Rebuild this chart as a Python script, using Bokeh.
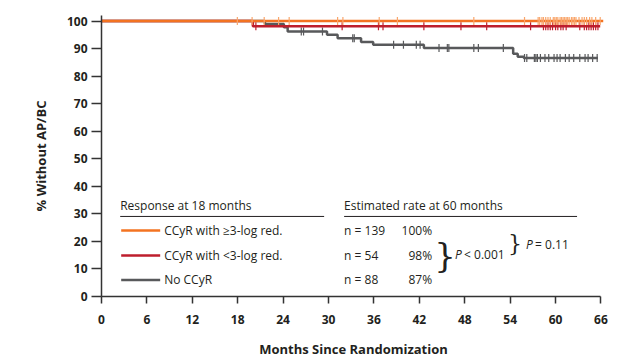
import numpy as np
from bokeh.plotting import figure
from bokeh.models import Range1d, Label, FixedTicker
from bokeh.embed import file_html
from bokeh.resources import INLINE

# ---------------- data ----------------
x_ticks = [0, 6, 12, 18, 24, 30, 36, 42, 48, 54, 60, 66]
y_ticks = [0, 10, 20, 30, 40, 50, 60, 70, 80, 90, 100]

series_names = ["CCyR with \u22653-log red.", "CCyR with <3-log red.", "No CCyR"]
series_n = ["n = 139", "n = 54", "n = 88"]
series_rate = ["100%", "98%", "87%"]

orange_t = [0, 66.3]
orange_v = [100, 100]
orange_cens = [17.95, 19.9, 21.5, 23.4, 24.8, 31.2, 31.9, 36.7, 39.1, 49.2, 55.9,
               57.7, 57.9, 58.2, 58.4, 58.7, 59.0, 59.3, 59.7, 59.9, 60.1, 60.3,
               60.6, 60.8, 61.0, 61.2, 61.4, 61.6, 61.8, 62.1, 62.3, 62.5, 62.7,
               63.1, 63.5, 63.8, 64.1, 64.5, 64.8, 65.3, 65.9]

red_t = [0, 20.0, 65.9]
red_v = [100, 98.1, 98.1]
red_cens = [20.4, 31.8, 36.6, 37.2, 42.6, 47.5, 50.9, 56.7, 58.4, 58.7, 59.0,
            59.3, 59.6, 60.0, 60.3, 60.7, 61.0, 61.4, 63.2, 63.8, 64.1, 64.4,
            64.7, 65.0, 65.3, 65.6]

gray_t = [0, 21.6, 24.1, 24.6, 29.8, 31.2, 34.3, 35.9, 42.6, 54.4, 55.0, 55.8, 65.6]
gray_v = [100, 98.9, 97.7, 96.2, 95.0, 93.7, 92.4, 91.4, 90.2, 88.1, 87.0, 86.6, 86.6]
gray_cens = [26.4, 26.7, 29.2, 33.2, 33.4, 38.6, 39.9, 41.6, 42.1, 44.6, 45.7, 45.9,
             49.2, 49.8, 53.1, 55.9, 56.2, 57.2, 57.4, 57.6, 58.0, 58.6, 59.1,
             59.8, 60.2, 60.6, 61.3, 61.8, 62.4, 63.2, 63.9, 64.3, 64.9, 65.5]

ORANGE = "#F37321"
ORANGE_T = "#F9A66C"
RED = "#BE1E2D"
GRAY = "#58595B"
TXT = "#231F20"
FONT = "Open Sans"


def step_at(ts, vs, q):
    idx = np.searchsorted(np.array(ts), np.array(q), side="right") - 1
    return np.array(vs)[idx]


# ---------------- figure ----------------
p = figure(width=630, height=360, output_backend="svg", toolbar_location=None,
           x_range=Range1d(0, 66.6), y_range=Range1d(0, 102),
           min_border_left=101, min_border_right=25, min_border_top=15,
           min_border_bottom=64)
p.outline_line_color = None
p.grid.visible = False
p.background_fill_color = "white"

for ax in (p.xaxis[0], p.yaxis[0]):
    ax.axis_line_color = "#333333"
    ax.axis_line_width = 1.5
    ax.major_tick_line_color = "#333333"
    ax.major_tick_line_width = 1.5
    ax.major_tick_in = 0
    ax.minor_tick_line_color = None
    ax.major_label_text_font = FONT
    ax.major_label_text_font_style = "bold"
    ax.major_label_text_font_size = "12px"
    ax.major_label_text_color = TXT
    ax.axis_label_text_font = FONT
    ax.axis_label_text_font_style = "bold"
    ax.axis_label_text_font_size = "13px"
    ax.axis_label_text_color = TXT

p.xaxis.ticker = FixedTicker(ticks=x_ticks)
p.yaxis.ticker = FixedTicker(ticks=y_ticks)
p.xaxis.bounds = (0, 66)
p.xaxis.major_tick_out = 7
p.yaxis.major_tick_out = 10
p.xaxis.major_label_standoff = 11
p.yaxis.major_label_standoff = 4
p.xaxis.axis_label = "Months Since Randomization"
p.xaxis.axis_label_standoff = 13
p.yaxis.axis_label = "% Without AP/BC"
p.yaxis.axis_label_standoff = 14

# curves
p.step(gray_t, gray_v, mode="after", line_color=GRAY, line_width=2.5)
p.scatter(gray_cens, step_at(gray_t, gray_v, gray_cens), marker="dash",
          angle=np.pi / 2, size=8, line_color=GRAY, line_width=1.2)
p.step(red_t, red_v, mode="after", line_color=RED, line_width=2.5)
p.scatter(red_cens, step_at(red_t, red_v, red_cens), marker="dash",
          angle=np.pi / 2, size=8, line_color=RED, line_width=1.2)
p.step(orange_t, orange_v, mode="after", line_color=ORANGE, line_width=2.5)
p.scatter(orange_cens, step_at(orange_t, orange_v, orange_cens), marker="dash",
          angle=np.pi / 2, size=8, line_color=ORANGE_T, line_width=1.2)

# ---------------- legend / table ----------------
X0, Y0, SX, SY = 101.3, 296.0, 7.57, 2.753


def dx(px):
    return (px - X0) / SX


def dy(py):
    return (Y0 - py) / SY


def label(px, py, text, size="12px", style="normal", align="left", font=FONT):
    p.add_layout(Label(x=dx(px), y=dy(py), text=text, text_font=font,
                       text_font_size=size, text_font_style=style,
                       text_color=TXT, text_align=align,
                       text_baseline="middle"))


label(120, 205, "Response at 18 months")
label(344, 205, "Estimated rate at 60 months")
p.segment(x0=[dx(120), dx(344)], y0=[dy(216)] * 2, x1=[dx(324), dx(577)],
          y1=[dy(216)] * 2, line_color=TXT, line_width=1)

row_y = [230, 255, 279.5]
colors = [ORANGE, RED, GRAY]
p.segment(x0=[dx(121)] * 3, y0=[dy(y) for y in row_y], x1=[dx(160)] * 3,
          y1=[dy(y) for y in row_y], line_color=colors, line_width=2.5)
for i, y in enumerate(row_y):
    label(164, y, series_names[i])
    label(344, y, series_n[i])
    label(432, y, series_rate[i], align="right")

label(445, 255, "}", size="34px", align="center", font="DejaVu Serif")
label(455, 254, "P", style="italic")
label(464, 254, "< 0.001")
label(515, 243, "}", size="22px", align="center", font="DejaVu Serif")
label(526, 244, "P", style="italic")
label(535, 244, "= 0.11")

open("out.html", "w").write(file_html(p, INLINE))
